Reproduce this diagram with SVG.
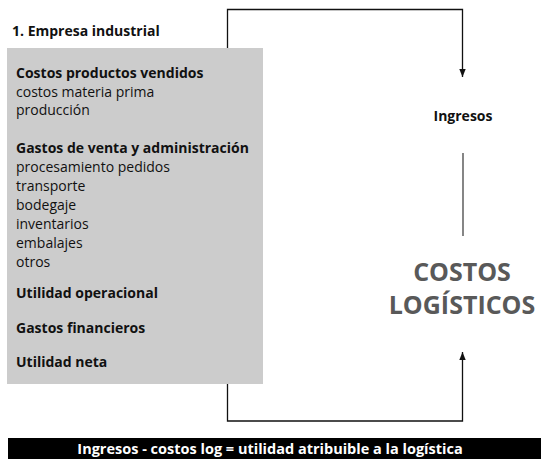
<svg xmlns="http://www.w3.org/2000/svg" width="541" height="459" viewBox="0 0 541 459">
<defs>
<style>
text{font-family:"Open Sans","Liberation Sans",sans-serif;fill:#111;}
.b{font-weight:bold;font-size:14px;}
.r{font-size:14px;}
.big{font-weight:bold;font-size:25px;fill:#595959;text-anchor:middle;}
.conn{fill:none;stroke:#111;stroke-width:1.3;}
</style>
<marker id="ah" viewBox="0 0 10 8" refX="10" refY="4" markerWidth="8" markerHeight="6.5" markerUnits="userSpaceOnUse" orient="auto">
<path d="M0,0 L10,4 L0,8 z" fill="#111"/>
</marker>
</defs>
<rect width="541" height="459" fill="#fff"/>
<g id="connectors">
<path class="conn" d="M227.5,48 V9.5 H462.5 V77" marker-end="url(#ah)"/>
<path class="conn" d="M227.5,384 V421 H462.5 V352" marker-end="url(#ah)"/>
<line x1="463" y1="153" x2="463" y2="236" stroke="#444" stroke-width="1.3"/>
</g>
<g id="title"><text class="b" x="12" y="36">1. Empresa industrial</text></g>
<g id="empresa">
<rect x="7" y="48" width="256" height="336" fill="#cccccc"/>
<text class="b" x="16" y="78">Costos productos vendidos</text>
<text class="r" x="16" y="96.5">costos materia prima</text>
<text class="r" x="16" y="115">producción</text>
<text class="b" x="16" y="153">Gastos de venta y administración</text>
<text class="r" x="16" y="171.5">procesamiento pedidos</text>
<text class="r" x="16" y="190.5">transporte</text>
<text class="r" x="16" y="209.5">bodegaje</text>
<text class="r" x="16" y="228.5">inventarios</text>
<text class="r" x="16" y="247.5">embalajes</text>
<text class="r" x="16" y="266.5">otros</text>
<text class="b" x="16" y="298">Utilidad operacional</text>
<text class="b" x="16" y="333">Gastos financieros</text>
<text class="b" x="16" y="367">Utilidad neta</text>
</g>
<g id="ingresos"><text class="b" x="463" y="121" text-anchor="middle">Ingresos</text></g>
<g id="costos">
<text class="big" x="462" y="281">COSTOS</text>
<text class="big" x="462" y="314">LOGÍSTICOS</text>
</g>
<g id="footer">
<rect x="8" y="438" width="533" height="21" fill="#000"/>
<text class="b" x="270" y="453.5" text-anchor="middle" style="fill:#fff;font-size:14.5px">Ingresos - costos log = utilidad atribuible a la logística</text>
</g>
</svg>
